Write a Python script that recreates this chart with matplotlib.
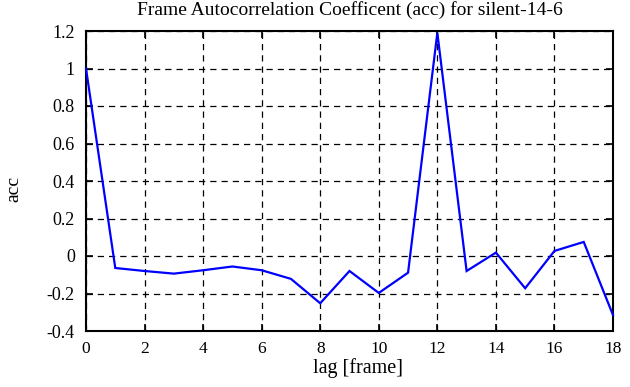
import matplotlib
matplotlib.use("Agg")
import matplotlib.pyplot as plt

lags = list(range(19))
acc = [1.0, -0.064, -0.08, -0.094, -0.076, -0.056, -0.076, -0.122, -0.252, -0.08,
       -0.197, -0.089, 1.19, -0.08, 0.018, -0.172, 0.027, 0.075, -0.315]
xticks = [0, 2, 4, 6, 8, 10, 12, 14, 16, 18]
yticks = [-0.4, -0.2, 0, 0.2, 0.4, 0.6, 0.8, 1, 1.2]
ytick_labels = ["-0.4", "-0.2", "0", "0.2", "0.4", "0.6", "0.8", "1", "1.2"]

plt.rcParams['font.family'] = ['Liberation Serif', 'DejaVu Serif']
W, H = 630, 387
fig = plt.figure(figsize=(6.3, 3.87), dpi=100)
ax = fig.add_axes([86 / W, 1 - 331 / H, 527 / W, 300 / H])
ax.plot(lags, acc, color='#0000ff', lw=1.6, solid_joinstyle='miter', clip_on=False, zorder=3)
ax.set_xlim(0, 18)
ax.set_ylim(-0.4, 1.2)
ax.set_xticks(xticks)
ax.set_xticklabels([str(t) for t in xticks], fontsize=12.5)
ax.set_yticks(yticks)
ax.set_yticklabels(ytick_labels, fontsize=13)
ax.grid(True, color='black', linestyle=(0, (5, 4)), linewidth=0.9)
ax.tick_params(direction='in', top=True, right=True, length=5, width=1.2)
ax.tick_params(axis='x', pad=7.5)
ax.tick_params(axis='y', pad=8)
for s in ax.spines.values():
    s.set_linewidth(1.5)
fig.text(358 / W, 1 - 368 / H, 'lag [frame]', fontsize=14.5, ha='center', va='center')
fig.text(14 / W, 1 - 189 / H, 'acc', fontsize=14, ha='center', va='center', rotation=90)
fig.text(349.5 / W, 1 - 10 / H, 'Frame Autocorrelation Coefficent (acc) for silent-14-6',
         fontsize=14, ha='center', va='center')
fig.savefig('out.png', dpi=100)
